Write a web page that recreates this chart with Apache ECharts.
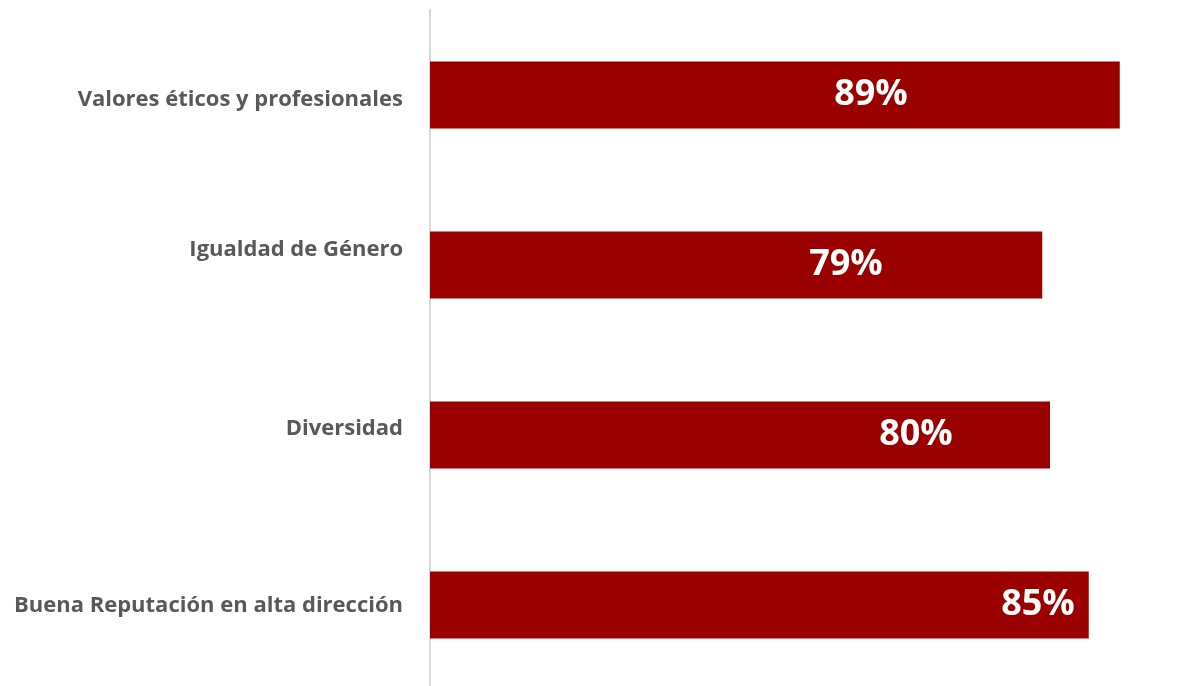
<!DOCTYPE html>
<html>
<head>
<meta charset="utf-8">
<script src="https://cdn.jsdelivr.net/npm/echarts@6/dist/echarts.min.js"></script>
<style>
  html, body { margin: 0; padding: 0; background: #ffffff; }
  #chart { width: 1191px; height: 686px; }
</style>
</head>
<body>
<div id="chart"></div>
<script>
// Categories, top to bottom
const categories = [
  'Valores éticos y profesionales',
  'Igualdad de Género',
  'Diversidad',
  'Buena Reputación en alta dirección'
];
// Share of respondents, in percent
const values = [89, 79, 80, 85];

// Horizontal placement of each value label, in px from the bar's start
const labelCenters = [441, 416, 486, 608];
// Vertical nudge of each category label, in px (positive = down)
const categoryShift = [5, -15, -6, 1];

const chart = echarts.init(document.getElementById('chart'), null, { renderer: 'canvas' });

const catFont = {
  color: '#595959',
  fontFamily: 'Open Sans',
  fontWeight: 'bold',
  fontSize: 22
};
const rich = {};
categoryShift.forEach((s, i) => {
  rich['c' + i] = Object.assign({}, catFont, {
    padding: s >= 0 ? [2 * s, 0, 0, 0] : [0, 0, -2 * s, 0]
  });
});

chart.setOption({
  animation: false,
  backgroundColor: '#ffffff',
  grid: {
    left: 430, top: 10, width: 775, height: 680,
    containLabel: false,
    outerBoundsMode: 'none'
  },
  xAxis: {
    type: 'value',
    min: 0,
    max: 100,
    show: false
  },
  yAxis: {
    type: 'category',
    data: categories,
    inverse: true,
    axisLine: { show: true, lineStyle: { color: '#d9d9d9', width: 2 } },
    axisTick: { show: false },
    splitLine: { show: false },
    axisLabel: Object.assign({
      margin: 27,
      formatter: (v, i) => '{c' + i + '|' + v + '}',
      rich: rich
    }, catFont)
  },
  series: [{
    type: 'bar',
    barWidth: 67,
    itemStyle: { color: '#9a0000' },
    data: values.map((v, i) => ({
      value: v,
      label: {
        show: true,
        position: [labelCenters[i], '50%'],
        align: 'center',
        verticalAlign: 'middle',
        formatter: '{c}%',
        color: '#ffffff',
        fontFamily: 'Open Sans',
        fontWeight: 'bold',
        fontSize: 36
      }
    }))
  }]
});
</script>
</body>
</html>
